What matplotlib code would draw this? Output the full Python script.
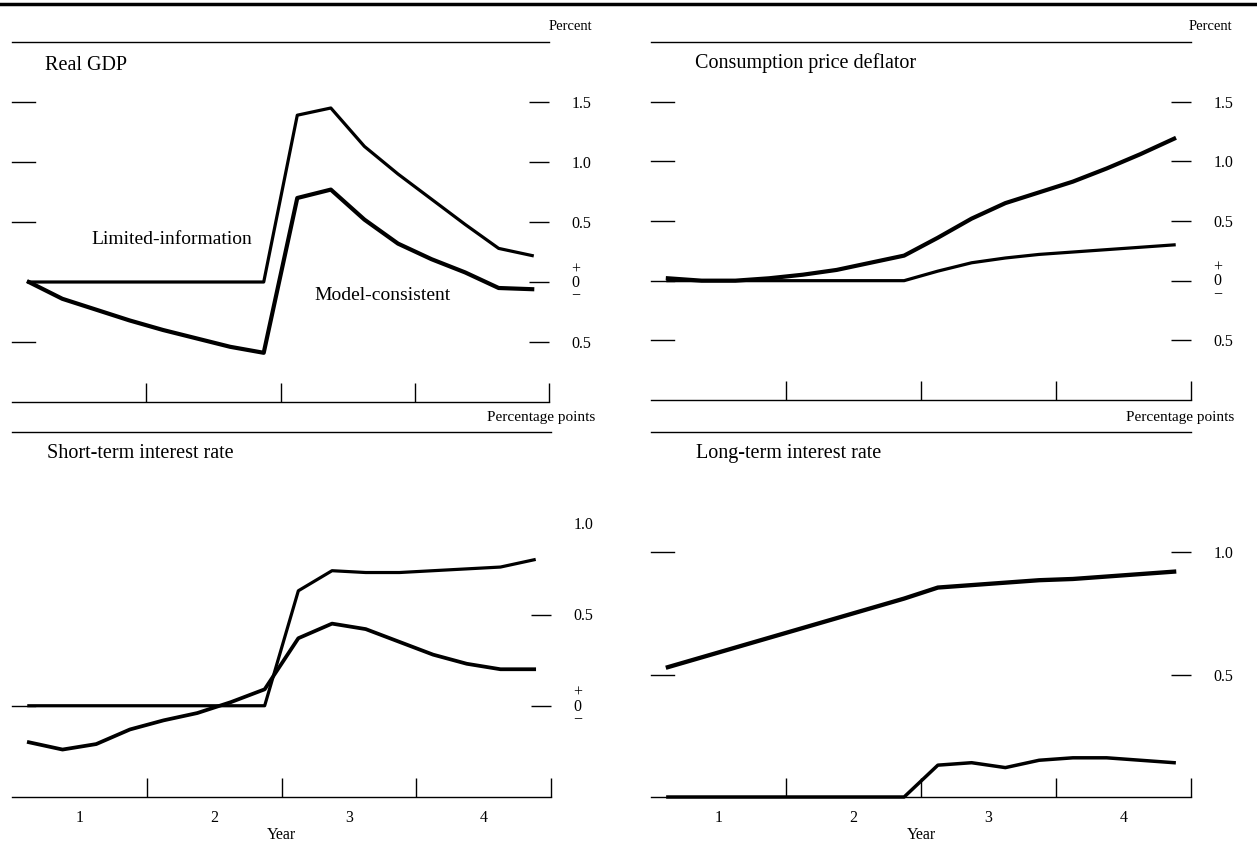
import numpy as np
import matplotlib as mpl
mpl.use('Agg')
import matplotlib.pyplot as plt
from matplotlib.lines import Line2D

plt.rcParams['font.family'] = ['Liberation Serif', 'DejaVu Serif']

# quarterly points, plotted at mid-quarter (years)
quarters = [0.125, 0.375, 0.625, 0.875, 1.125, 1.375, 1.625, 1.875,
            2.125, 2.375, 2.625, 2.875, 3.125, 3.375, 3.625, 3.875]

# Real GDP, percent
gdp_limited = [0, 0, 0, 0, 0, 0, 0, 0,
               1.39, 1.45, 1.13, 0.90, 0.69, 0.48, 0.28, 0.22]
gdp_model = [0, -0.14, -0.23, -0.32, -0.40, -0.47, -0.54, -0.59,
             0.70, 0.77, 0.52, 0.32, 0.19, 0.08, -0.05, -0.06]

# Consumption price deflator, percent
cpd_upper = [0.02, 0.0, 0.0, 0.02, 0.05, 0.09, 0.15, 0.21,
             0.36, 0.52, 0.65, 0.74, 0.83, 0.94, 1.06, 1.19]
cpd_lower = [0, 0, 0, 0, 0, 0, 0, 0,
             0.08, 0.15, 0.19, 0.22, 0.24, 0.26, 0.28, 0.30]

# Short-term interest rate, percentage points
str_upper = [0, 0, 0, 0, 0, 0, 0, 0,
             0.63, 0.74, 0.73, 0.73, 0.74, 0.75, 0.76, 0.80]
str_lower = [-0.20, -0.24, -0.21, -0.13, -0.08, -0.04, 0.02, 0.09,
             0.37, 0.45, 0.42, 0.35, 0.28, 0.23, 0.20, 0.20]

# Long-term interest rate, percentage points
ltr_upper = [0.53, 0.57, 0.61, 0.65, 0.69, 0.73, 0.77, 0.81,
             0.855, 0.865, 0.875, 0.885, 0.89, 0.90, 0.91, 0.92]
ltr_lower = [0, 0, 0, 0, 0, 0, 0, 0,
             0.13, 0.14, 0.12, 0.15, 0.16, 0.16, 0.15, 0.14]

year_pos = [0.5, 1.5, 2.5, 3.5]
year_labels = ['1', '2', '3', '4']
zero_label = '+\n0\n\u2212'

W, H = 1257, 844
fig = plt.figure(figsize=(W / 100, H / 100), dpi=100)


def px_axes(x0, x1, ytop, ybot):
    return fig.add_axes([x0 / W, 1 - ybot / H, (x1 - x0) / W, (ybot - ytop) / H])


def style(ax, ylim, rticks, rlabels, lticks, show_years, no_tick_line=()):
    ax.set_xlim(0, 4)
    ax.set_ylim(*ylim)
    for s in ['left', 'right']:
        ax.spines[s].set_visible(False)
    ax.spines['top'].set_linewidth(1.0)
    ax.spines['bottom'].set_linewidth(1.0)
    ax.set_xticks([1, 2, 3, 4], labels=['', '', '', ''])
    ax.tick_params(axis='x', which='major', direction='in', length=13.5, width=1.0)
    if show_years:
        ax.set_xticks(year_pos, labels=year_labels, minor=True)
        ax.tick_params(axis='x', which='minor', length=0, pad=9, labelsize=11.5)
        ax.set_xlabel('Year', fontsize=11.5, labelpad=1)
    ax.yaxis.tick_right()
    ax.set_yticks(rticks, labels=rlabels)
    ax.tick_params(axis='y', direction='in', length=14.5, width=1.0, pad=16,
                   labelsize=11.5)
    for lab in ax.get_yticklabels():
        lab.set_multialignment('center')
        lab.set_linespacing(0.8)
    ticks = ax.yaxis.get_major_ticks()
    for i in no_tick_line:
        ticks[i].tick2line.set_visible(False)
    for v in lticks:
        ax.plot([0, 0.042], [v, v], transform=ax.get_yaxis_transform(),
                color='k', lw=1.0, clip_on=False)


# --- Real GDP ---
ax1 = px_axes(12, 549, 42, 402)
style(ax1, (-1.0, 2.0), [1.5, 1.0, 0.5, 0, -0.5],
      ['1.5', '1.0', '0.5', zero_label, '0.5'], [1.5, 1.0, 0.5, -0.5], False)
ax1.plot(quarters, gdp_limited, color='k', lw=2.3, clip_on=False)
ax1.plot(quarters, gdp_model, color='k', lw=3.0, clip_on=False)
ax1.text(0.061, 0.936, 'Real GDP', transform=ax1.transAxes, fontsize=14.5, va='center')
ax1.text(1.19, 0.35, 'Limited-information', fontsize=14, ha='center', va='center')
ax1.text(2.76, -0.11, 'Model-consistent', fontsize=14, ha='center', va='center')

# --- Consumption price deflator ---
ax2 = px_axes(651, 1191, 42, 400)
style(ax2, (-1.0, 2.0), [1.5, 1.0, 0.5, 0, -0.5],
      ['1.5', '1.0', '0.5', zero_label, '0.5'], [1.5, 1.0, 0.5, 0, -0.5], False)
ax2.plot(quarters, cpd_upper, color='k', lw=3.0, clip_on=False)
ax2.plot(quarters, cpd_lower, color='k', lw=2.3, clip_on=False)
ax2.text(0.081, 0.94, 'Consumption price deflator', transform=ax2.transAxes,
         fontsize=14.5, va='center')

# --- Short-term interest rate ---
ax3 = px_axes(12, 551, 432, 797)
style(ax3, (-0.5, 1.5), [1.0, 0.5, 0], ['1.0', '0.5', zero_label], [0], True,
      no_tick_line=(0,))
ax3.plot(quarters, str_upper, color='k', lw=2.3, clip_on=False)
ax3.plot(quarters, str_lower, color='k', lw=2.7, clip_on=False)
ax3.text(0.065, 0.942, 'Short-term interest rate', transform=ax3.transAxes,
         fontsize=14.5, va='center')

# --- Long-term interest rate ---
ax4 = px_axes(651, 1191, 432, 797)
style(ax4, (0, 1.49), [1.0, 0.5], ['1.0', '0.5'], [1.0, 0.5], True)
ax4.plot(quarters, ltr_upper, color='k', lw=3.1, clip_on=False)
ax4.plot(quarters, ltr_lower, color='k', lw=2.5, clip_on=False)
ax4.text(0.083, 0.942, 'Long-term interest rate', transform=ax4.transAxes,
         fontsize=14.5, va='center')

# unit captions and top rule
fig.text(592 / W, 1 - 27 / H, 'Percent', ha='right', va='center', fontsize=10.5)
fig.text(1232 / W, 1 - 27 / H, 'Percent', ha='right', va='center', fontsize=10.5)
fig.text(595 / W, 1 - 417 / H, 'Percentage points', ha='right', va='center', fontsize=11)
fig.text(1234 / W, 1 - 417 / H, 'Percentage points', ha='right', va='center', fontsize=11)
fig.add_artist(Line2D([0, 1], [1 - 4 / H, 1 - 4 / H], color='k', lw=2.5))

fig.savefig('out.png', dpi=100)
